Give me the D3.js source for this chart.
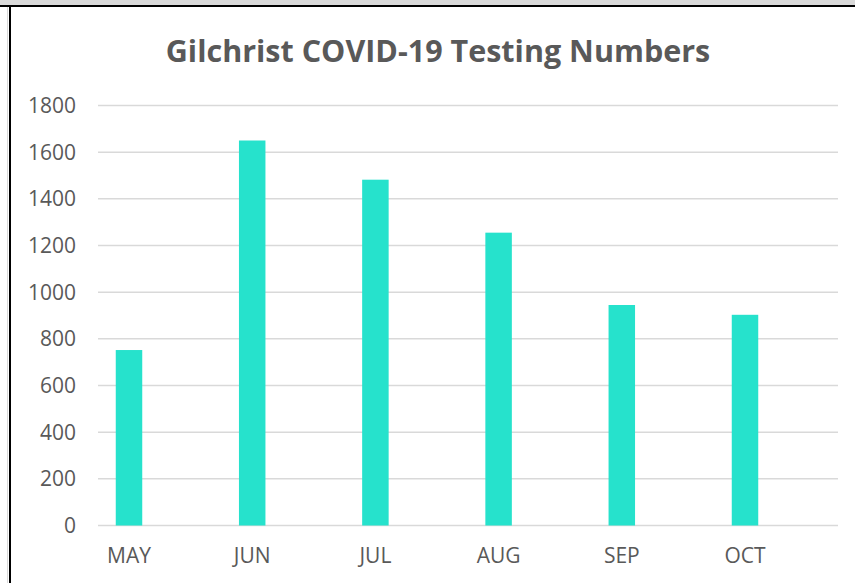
<!DOCTYPE html>
<html>
<head>
<meta charset="utf-8">
<script src="https://cdn.jsdelivr.net/npm/d3@7"></script>
<style>
  body{margin:0;background:#fff;}
  svg{display:block;font-family:"Open Sans",sans-serif;}
</style>
</head>
<body>
<svg id="chart" width="855" height="583"></svg>
<script>
const months=["MAY","JUN","JUL","AUG","SEP","OCT"];
const tests=[752,1650,1482,1255,945,903];
const yTicks=[0,200,400,600,800,1000,1200,1400,1600,1800];
const title="Gilchrist COVID-19 Testing Numbers";

const svg=d3.select("#chart");
const W=855,H=583;

// window chrome round the chart
svg.append("rect").attr("x",0).attr("y",0).attr("width",W).attr("height",5).attr("fill","#d9d9d9");
svg.append("rect").attr("x",0).attr("y",5).attr("width",W).attr("height",2).attr("fill","#000");
svg.append("rect").attr("x",7).attr("y",7).attr("width",1).attr("height",H-7).attr("fill","#d9d9d9");
svg.append("rect").attr("x",9).attr("y",7).attr("width",2).attr("height",H-7).attr("fill","#000");

const gridLeft=98,gridRight=838;
const y=d3.scaleLinear().domain([0,1800]).range([525.5,105.5]);
const x=d3.scaleBand().domain(months).range([67.4,806.6]).paddingInner(0.785).paddingOuter(0.3925);

// gridlines
svg.append("g").selectAll("line")
  .data(yTicks)
  .enter()
    .append("line")
    .attr("x1",gridLeft)
    .attr("x2",gridRight)
    .attr("y1",(d)=>y(d))
    .attr("y2",(d)=>y(d))
    .attr("stroke","#d9d9d9")
    .attr("stroke-width",1.5);

// y labels
svg.append("g").selectAll("text")
  .data(yTicks)
  .enter()
    .append("text")
    .attr("x",76)
    .attr("y",(d)=>y(d))
    .attr("dy","0.36em")
    .attr("text-anchor","end")
    .attr("font-size",21)
    .attr("fill","#595959")
    .text((d)=>d);

// bars
svg.append("g").selectAll("rect")
  .data(months)
  .enter()
    .append("rect")
    .attr("x",(m)=>x(m))
    .attr("width",x.bandwidth())
    .attr("y",(m,i)=>y(tests[i]))
    .attr("height",(m,i)=>y(0)-y(tests[i]))
    .attr("fill","#26e2cc");

// x labels
svg.append("g").selectAll("text")
  .data(months)
  .enter()
    .append("text")
    .attr("x",(m)=>x(m)+x.bandwidth()/2)
    .attr("y",563)
    .attr("text-anchor","middle")
    .attr("font-size",21)
    .attr("fill","#595959")
    .text((m)=>m);

svg.append("text")
  .attr("x",438)
  .attr("y",62)
  .attr("text-anchor","middle")
  .attr("font-size",30.5)
  .attr("font-weight","bold")
  .attr("fill","#595959")
  .text(title);
</script>
</body>
</html>
